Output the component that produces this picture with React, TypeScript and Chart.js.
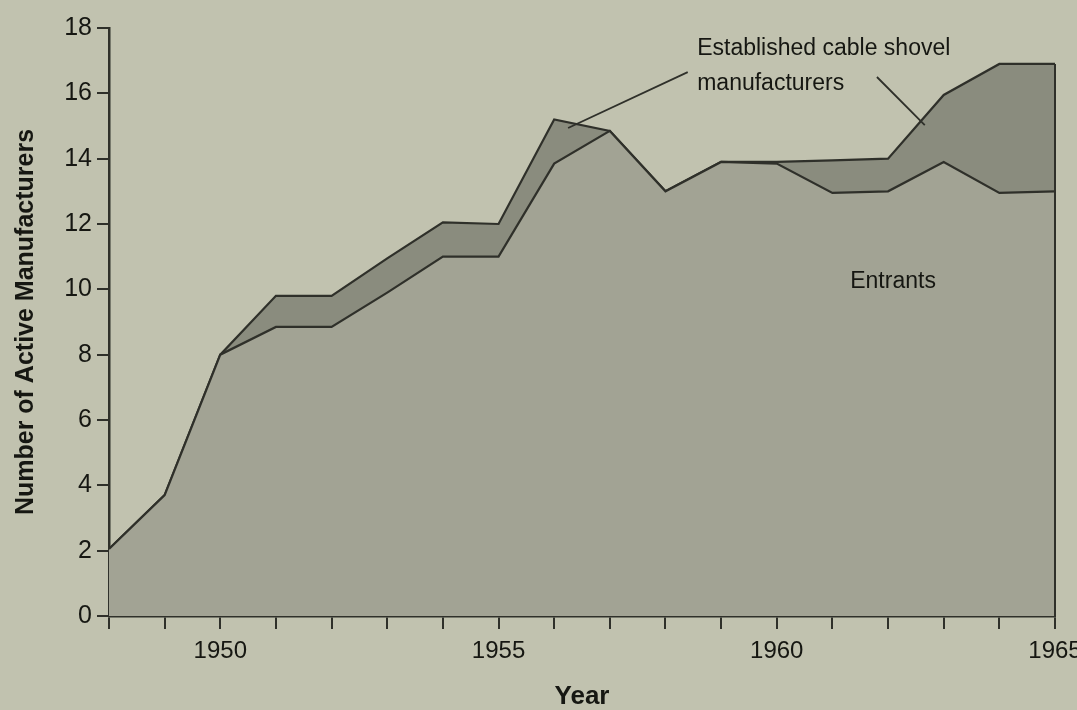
import React, { useEffect, useRef } from "react";
import { Chart, registerables } from "chart.js";

Chart.register(...registerables);

const years = [1948, 1949, 1950, 1951, 1952, 1953, 1954, 1955, 1956, 1957, 1958, 1959, 1960, 1961, 1962, 1963, 1964, 1965];
const entrants = [2.05, 3.7, 8.0, 8.85, 8.85, 9.9, 11.0, 11.0, 13.85, 14.85, 13.0, 13.9, 13.85, 12.95, 13.0, 13.9, 12.95, 13.0];
const established = [0, 0, 0, 0.95, 0.95, 1.05, 1.05, 1.0, 1.35, 0, 0, 0, 0.05, 1.0, 1.0, 2.05, 3.95, 3.9];
const yTicks = [0, 2, 4, 6, 8, 10, 12, 14, 16, 18];
const xLabelYears = [1950, 1955, 1960, 1965];

const seriesNames = ["Entrants", "Established cable shovel manufacturers"];

const FONT = "'Liberation Sans', Arial, Helvetica, sans-serif";
const PAPER = "#c1c2af";
const INK = "#161712";
const LINE = "#2f302a";
const ENTRANT_FILL = "#a2a394";
const ESTABLISHED_FILL = "#8a8c7e";

const paperPlugin = {
  id: "paper",
  beforeDraw(chart: any) {
    const { ctx, width, height } = chart;
    ctx.save();
    ctx.fillStyle = PAPER;
    ctx.fillRect(0, 0, width, height);
    ctx.restore();
  },
};

const annotationPlugin = {
  id: "annotations",
  afterDatasetsDraw(chart: any) {
    const { ctx } = chart;
    const xs = chart.scales.x;
    const ys = chart.scales.y;
    const px = (v: number) => xs.getPixelForValue(v);
    const py = (v: number) => ys.getPixelForValue(v);
    const last = years.length - 1;
    ctx.save();
    // right edge of the stacked area
    ctx.strokeStyle = LINE;
    ctx.lineWidth = 2;
    ctx.beginPath();
    ctx.moveTo(px(years[last]), py(entrants[last] + established[last]));
    ctx.lineTo(px(years[last]), py(0));
    ctx.stroke();

    // leader lines
    ctx.lineWidth = 1.8;
    ctx.beginPath();
    ctx.moveTo(px(1958.4), py(16.65));
    ctx.lineTo(px(1956.25), py(14.94));
    ctx.moveTo(px(1961.8), py(16.5));
    ctx.lineTo(px(1962.66), py(15.03));
    ctx.stroke();

    // texts
    ctx.fillStyle = INK;
    ctx.font = `23px ${FONT}`;
    ctx.textBaseline = "middle";
    ctx.textAlign = "left";
    ctx.fillText("Established cable shovel", px(1958.57), py(17.36));
    ctx.fillText("manufacturers", px(1958.57), py(16.31));
    ctx.textAlign = "center";
    ctx.fillText("Entrants", px(1962.09), py(10.25));
    ctx.restore();
  },
};

export default function App() {
  const ref = useRef<HTMLCanvasElement | null>(null);

  useEffect(() => {
    document.body.style.margin = "0";
    document.body.style.background = PAPER;
    const canvas = ref.current;
    if (!canvas) return;
    const chart = new Chart(canvas, {
      type: "line",
      data: {
        datasets: [
          {
            label: seriesNames[0],
            data: years.map((x, i) => ({ x, y: entrants[i] })),
            fill: "origin",
            backgroundColor: ENTRANT_FILL,
            borderColor: LINE,
            borderWidth: 2.2,
            pointRadius: 0,
            tension: 0,
          },
          {
            label: seriesNames[1],
            data: years.map((x, i) => ({ x, y: established[i] })),
            fill: "-1",
            backgroundColor: ESTABLISHED_FILL,
            borderColor: LINE,
            borderWidth: 2.2,
            pointRadius: 0,
            tension: 0,
          },
        ],
      },
      options: {
        animation: false,
        responsive: false,
        maintainAspectRatio: false,
        layout: { padding: { left: 0, right: 22, top: 28, bottom: 0 } },
        plugins: {
          legend: { display: false },
          tooltip: { enabled: false },
        },
        scales: {
          x: {
            type: "linear",
            min: years[0],
            max: years[years.length - 1],
            afterFit(scale: any) {
              scale.height = 94;
              scale.paddingLeft = 0;
              scale.paddingRight = 0;
            },
            ticks: {
              stepSize: 1,
              autoSkip: false,
              maxRotation: 0,
              padding: 8,
              color: INK,
              font: { family: FONT, size: 24 },
              callback: (v: any) => (xLabelYears.includes(Number(v)) ? String(v) : ""),
            },
            grid: {
              display: true,
              drawOnChartArea: false,
              drawTicks: true,
              tickLength: 13,
              color: LINE,
              lineWidth: 2,
            },
            border: { display: true, color: LINE, width: 2.5 },
            title: {
              display: true,
              text: "Year",
              color: INK,
              font: { family: FONT, size: 26, weight: "bold", lineHeight: 1 },
              padding: { top: 0, bottom: 0 },
            },
          },
          y: {
            type: "linear",
            stacked: true,
            min: 0,
            max: 18,
            afterFit(scale: any) {
              scale.width = 109;
              scale.paddingTop = 0;
              scale.paddingBottom = 0;
            },
            afterBuildTicks(scale: any) {
              scale.ticks = yTicks.map((v) => ({ value: v }));
            },
            ticks: {
              padding: 5,
              color: INK,
              font: { family: FONT, size: 25 },
            },
            grid: {
              display: true,
              drawOnChartArea: false,
              drawTicks: true,
              tickLength: 12,
              color: LINE,
              lineWidth: 2,
            },
            border: { display: true, color: LINE, width: 2.5 },
            title: {
              display: true,
              text: "Number of Active Manufacturers",
              color: INK,
              font: { family: FONT, size: 25, weight: "bold", lineHeight: 1 },
              padding: { top: 14, bottom: 0 },
            },
          },
        },
      },
      plugins: [paperPlugin, annotationPlugin],
    } as any);
    return () => chart.destroy();
  }, []);

  return (
    <div style={{ position: "fixed", left: 0, top: 0, width: 1077, height: 710, background: PAPER }}>
      <canvas ref={ref} width={1077} height={710} style={{ display: "block", width: 1077, height: 710 }} />
    </div>
  );
}
